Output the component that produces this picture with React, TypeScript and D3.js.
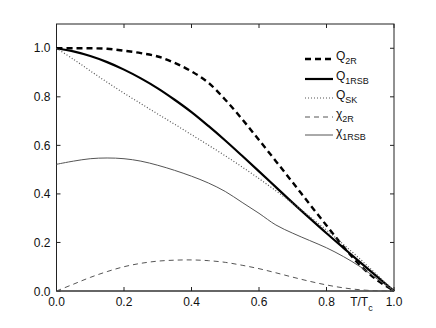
import React, { useRef, useEffect } from "react";
import * as d3 from "d3";

// T/Tc grid shared by all curves
const temps = [0, 0.05, 0.1, 0.15, 0.2, 0.25, 0.3, 0.35, 0.4, 0.45, 0.5, 0.55, 0.6, 0.65, 0.7, 0.75, 0.8, 0.85, 0.9, 0.95, 1.0];

const q2R = [1.0, 1.0, 1.0, 0.998, 0.99, 0.98, 0.966, 0.94, 0.905, 0.858, 0.788, 0.708, 0.622, 0.535, 0.447, 0.358, 0.27, 0.183, 0.105, 0.045, 0];
const q1RSB = [1.0, 0.987, 0.968, 0.943, 0.912, 0.876, 0.835, 0.788, 0.737, 0.68, 0.62, 0.557, 0.493, 0.428, 0.363, 0.3, 0.238, 0.178, 0.118, 0.059, 0];
const qSK = [1.0, 0.955, 0.907, 0.86, 0.815, 0.772, 0.729, 0.687, 0.644, 0.601, 0.557, 0.511, 0.463, 0.413, 0.361, 0.307, 0.251, 0.192, 0.131, 0.066, 0];
const chi2R = [0, 0.028, 0.056, 0.08, 0.1, 0.114, 0.123, 0.127, 0.128, 0.125, 0.118, 0.106, 0.092, 0.075, 0.057, 0.04, 0.025, 0.013, 0.005, 0.001, 0];
const chi1RSB = [0.522, 0.535, 0.545, 0.548, 0.545, 0.535, 0.518, 0.497, 0.473, 0.445, 0.41, 0.365, 0.32, 0.272, 0.238, 0.208, 0.178, 0.142, 0.1, 0.05, 0];

const xTicks = [0, 0.2, 0.4, 0.6, 0.8, 1.0];
const yTicks = [0, 0.2, 0.4, 0.6, 0.8, 1.0];

const seriesList = [
  { sym: "Q", sub: "2R", values: q2R, color: "#000", width: 2.4, dash: "6,4" },
  { sym: "Q", sub: "1RSB", values: q1RSB, color: "#000", width: 2.2, dash: null },
  { sym: "Q", sub: "SK", values: qSK, color: "#555", width: 1.2, dash: "1,2" },
  { sym: "\u03c7", sub: "2R", values: chi2R, color: "#555", width: 1, dash: "5,4" },
  { sym: "\u03c7", sub: "1RSB", values: chi1RSB, color: "#555", width: 1, dash: null },
];

const App = () => {
  const svgRef = useRef<SVGSVGElement>(null);

  useEffect(() => {
    const W = 436;
    const H = 328;
    const margin = { top: 24, right: 42, bottom: 37, left: 56.5 };
    const width = W - margin.left - margin.right;
    const height = H - margin.top - margin.bottom;

    const root = d3.select(svgRef.current);
    root.selectAll("*").remove();
    const svg = root
      .append("g")
      .attr("transform", `translate(${margin.left},${margin.top})`)
      .style("font-family", "'Liberation Sans', Arial, sans-serif");

    const x = d3.scaleLinear().domain([0, 1]).range([0, width]);
    const y = d3.scaleLinear().domain([0, 1.1]).range([height, 0]);

    // frame
    svg
      .append("rect")
      .attr("width", width)
      .attr("height", height)
      .attr("fill", "none")
      .attr("stroke", "#222")
      .attr("stroke-width", 1);
    svg
      .append("line")
      .attr("x1", 0)
      .attr("x2", width)
      .attr("y1", height)
      .attr("y2", height)
      .attr("stroke", "#666")
      .attr("stroke-width", 2);

    // inward ticks on all four sides
    const tl = 4;
    xTicks.forEach((t) => {
      svg.append("line").attr("x1", x(t)).attr("x2", x(t)).attr("y1", height).attr("y2", height - tl).attr("stroke", "#222");
      svg.append("line").attr("x1", x(t)).attr("x2", x(t)).attr("y1", 0).attr("y2", tl).attr("stroke", "#222");
      svg
        .append("text")
        .attr("x", x(t))
        .attr("y", height + 15)
        .attr("text-anchor", "middle")
        .style("font-size", "12px")
        .attr("fill", "#111")
        .text(d3.format(".1f")(t));
    });
    yTicks.forEach((t) => {
      svg.append("line").attr("x1", 0).attr("x2", tl).attr("y1", y(t)).attr("y2", y(t)).attr("stroke", "#222");
      svg.append("line").attr("x1", width).attr("x2", width - tl).attr("y1", y(t)).attr("y2", y(t)).attr("stroke", "#222");
      svg
        .append("text")
        .attr("x", -6)
        .attr("y", y(t) + (t === 0 ? 1 : 0))
        .attr("dy", "0.35em")
        .attr("text-anchor", "end")
        .style("font-size", "12px")
        .attr("fill", "#111")
        .text(d3.format(".1f")(t));
    });

    // axis label T/Tc
    const xl = svg
      .append("text")
      .attr("x", x(0.87))
      .attr("y", height + 15)
      .attr("text-anchor", "start")
      .style("font-size", "12px")
      .attr("fill", "#111");
    xl.append("tspan").text("T/T");
    xl.append("tspan").attr("dy", 5).style("font-size", "9px").text("c");

    // curves
    const line = d3
      .line<number>()
      .x((d, i) => x(temps[i]))
      .y((d) => y(d))
      .curve(d3.curveCatmullRom.alpha(0.5));

    seriesList.forEach((s) => {
      svg
        .append("path")
        .attr("d", line(s.values))
        .attr("fill", "none")
        .attr("stroke", s.color)
        .attr("stroke-width", s.width)
        .attr("stroke-dasharray", s.dash ?? null);
    });

    // legend
    const legendY = [59, 79, 98, 117, 135];
    seriesList.forEach((s, i) => {
      const ly = legendY[i] - margin.top;
      const lx = 305 - margin.left;
      svg
        .append("line")
        .attr("x1", lx)
        .attr("x2", lx + 28)
        .attr("y1", ly)
        .attr("y2", ly)
        .attr("stroke", s.color)
        .attr("stroke-width", s.width)
        .attr("stroke-dasharray", s.dash ?? null);
      const t = svg
        .append("text")
        .attr("x", lx + 31)
        .attr("y", ly + 1)
        .style("font-size", "12px")
        .attr("fill", "#111");
      t.append("tspan").text(s.sym);
      t.append("tspan").attr("dy", 4).style("font-size", "9px").text(s.sub);
    });
  }, []);

  return (
    <svg
      ref={svgRef}
      width={436}
      height={328}
      style={{ position: "fixed", left: 0, top: 0, background: "#fff" }}
    />
  );
};

export default App;
